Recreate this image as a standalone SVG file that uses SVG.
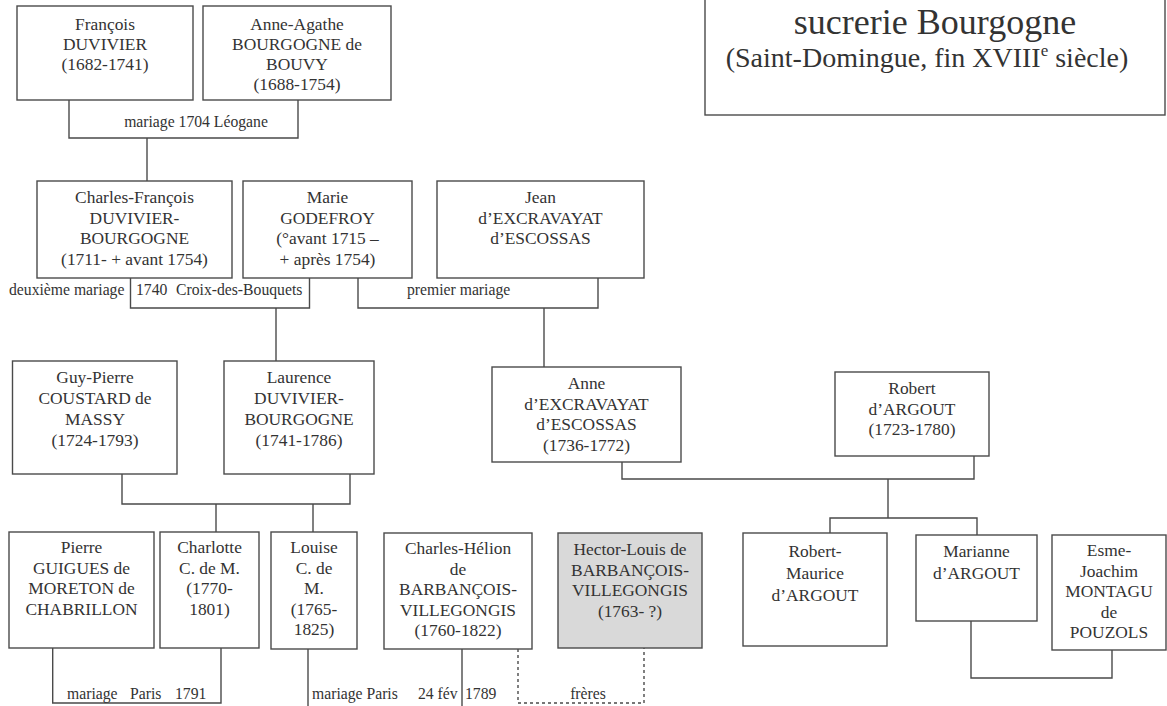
<svg xmlns="http://www.w3.org/2000/svg" width="1167" height="706" viewBox="0 0 1167 706">
<style>
  .box { fill: #ffffff; stroke: #4a4a4a; stroke-width: 1.4; }
  .gray { fill: #d9d9d9; }
  .nm { font-family: "Liberation Serif", "Times New Roman", serif; font-size: 17.4px; fill: #333333; text-anchor: middle; }
  .lb { font-family: "Liberation Serif", "Times New Roman", serif; font-size: 15.7px; fill: #333333; }
  .ln { fill: none; stroke: #4a4a4a; stroke-width: 1.4; }
  .dt { fill: none; stroke: #4a4a4a; stroke-width: 1.4; stroke-dasharray: 3 3; }
  .ttl { font-family: "Liberation Serif", "Times New Roman", serif; fill: #333333; text-anchor: middle; }
</style>
<rect width="1167" height="706" fill="#ffffff"/>

<g id="title">
  <rect class="box" x="705" y="-5" width="460" height="120"/>
  <text class="ttl" x="935" y="34" font-size="36">sucrerie Bourgogne</text>
  <text class="ttl" x="927" y="67" font-size="28">(Saint-Domingue, fin XVIII<tspan font-size="17" dy="-11">e</tspan><tspan dy="11"> siècle)</tspan></text>
</g>

<g id="connectors">
  <!-- row 1 marriage -->
  <polyline class="ln" points="69,100 69,138 298,138 298,100"/>
  <line class="ln" x1="147" y1="138" x2="147" y2="181"/>
  <!-- row 2 marriages -->
  <polyline class="ln" points="130.5,278 130.5,308 309.5,308 309.5,278"/>
  <line class="ln" x1="276" y1="308" x2="276" y2="361"/>
  <polyline class="ln" points="358,278 358,308 598,308 598,278"/>
  <line class="ln" x1="544" y1="308" x2="544" y2="367"/>
  <!-- row 3 -->
  <polyline class="ln" points="122,474 122,504 350,504 350,474"/>
  <line class="ln" x1="216" y1="504" x2="216" y2="532"/>
  <line class="ln" x1="313" y1="504" x2="313" y2="532"/>
  <polyline class="ln" points="622,462 622,479 974,479 974,456"/>
  <line class="ln" x1="888" y1="479" x2="888" y2="518"/>
  <polyline class="ln" points="830,533 830,518 977,518 977,535"/>
  <!-- row 4 -->
  <polyline class="ln" points="52.7,648 52.7,703 221,703 221,648"/>
  <line class="ln" x1="308" y1="649" x2="308" y2="708"/>
  <line class="ln" x1="462" y1="649" x2="462" y2="708"/>
  <polyline class="dt" points="518,649 518,703 644,703 644,648"/>
  <polyline class="ln" points="971,621 971,678 1112,678 1112,650"/>
</g>

<g id="labels">
  <text class="lb" x="196" y="127" text-anchor="middle">mariage 1704 Léogane</text>
  <text class="lb" x="9" y="295">deuxième mariage</text>
  <text class="lb" x="136" y="295">1740</text>
  <text class="lb" x="176" y="295">Croix-des-Bouquets</text>
  <text class="lb" x="407" y="295">premier mariage</text>
  <text class="lb" x="67" y="699">mariage</text>
  <text class="lb" x="130" y="699">Paris</text>
  <text class="lb" x="175" y="699">1791</text>
  <text class="lb" x="312" y="699">mariage Paris</text>
  <text class="lb" x="418" y="699">24 fév</text>
  <text class="lb" x="465" y="699">1789</text>
  <text class="lb" x="588" y="699" text-anchor="middle">frères</text>
</g>

<g id="francois-duvivier">
  <rect class="box" x="17" y="6" width="176" height="94"/>
  <text class="nm"><tspan x="105" y="30">François</tspan><tspan x="105" y="50">DUVIVIER</tspan><tspan x="105" y="70">(1682-1741)</tspan></text>
</g>
<g id="anne-agathe">
  <rect class="box" x="203" y="6" width="188" height="94"/>
  <text class="nm"><tspan x="297" y="30">Anne-Agathe</tspan><tspan x="297" y="50">BOURGOGNE de</tspan><tspan x="297" y="70">BOUVY</tspan><tspan x="297" y="90">(1688-1754)</tspan></text>
</g>

<g id="charles-francois">
  <rect class="box" x="37" y="181" width="195" height="97"/>
  <text class="nm"><tspan x="134.5" y="203">Charles-François</tspan><tspan x="134.5" y="223.5">DUVIVIER-</tspan><tspan x="134.5" y="244">BOURGOGNE</tspan><tspan x="134.5" y="264.5">(1711- + avant 1754)</tspan></text>
</g>
<g id="marie-godefroy">
  <rect class="box" x="243" y="181" width="169" height="97"/>
  <text class="nm"><tspan x="327.5" y="203">Marie</tspan><tspan x="327.5" y="223.5">GODEFROY</tspan><tspan x="327.5" y="244">(°avant 1715 –</tspan><tspan x="327.5" y="264.5">+ après 1754)</tspan></text>
</g>
<g id="jean-excravayat">
  <rect class="box" x="437" y="181" width="207" height="97"/>
  <text class="nm"><tspan x="540.5" y="203">Jean</tspan><tspan x="540.5" y="223.5">d’EXCRAVAYAT</tspan><tspan x="540.5" y="244">d’ESCOSSAS</tspan></text>
</g>

<g id="guy-pierre">
  <rect class="box" x="12.5" y="361" width="164.5" height="113"/>
  <text class="nm"><tspan x="95" y="383">Guy-Pierre</tspan><tspan x="95" y="404">COUSTARD de</tspan><tspan x="95" y="425">MASSY</tspan><tspan x="95" y="446">(1724-1793)</tspan></text>
</g>
<g id="laurence">
  <rect class="box" x="224" y="361" width="150" height="113"/>
  <text class="nm"><tspan x="299" y="383">Laurence</tspan><tspan x="299" y="404">DUVIVIER-</tspan><tspan x="299" y="425">BOURGOGNE</tspan><tspan x="299" y="446">(1741-1786)</tspan></text>
</g>
<g id="anne-excravayat">
  <rect class="box" x="492" y="367" width="189" height="95"/>
  <text class="nm"><tspan x="586.5" y="389">Anne</tspan><tspan x="586.5" y="409.5">d’EXCRAVAYAT</tspan><tspan x="586.5" y="430">d’ESCOSSAS</tspan><tspan x="586.5" y="450.5">(1736-1772)</tspan></text>
</g>
<g id="robert-argout">
  <rect class="box" x="835" y="372" width="154" height="84"/>
  <text class="nm"><tspan x="912" y="394">Robert</tspan><tspan x="912" y="414.5">d’ARGOUT</tspan><tspan x="912" y="435">(1723-1780)</tspan></text>
</g>

<g id="pierre-guigues">
  <rect class="box" x="9" y="532" width="145" height="116"/>
  <text class="nm"><tspan x="81.5" y="553">Pierre</tspan><tspan x="81.5" y="573.5">GUIGUES de</tspan><tspan x="81.5" y="594">MORETON de</tspan><tspan x="81.5" y="614.5">CHABRILLON</tspan></text>
</g>
<g id="charlotte">
  <rect class="box" x="160" y="532" width="99" height="116"/>
  <text class="nm"><tspan x="209.5" y="553">Charlotte</tspan><tspan x="209.5" y="573.5">C. de M.</tspan><tspan x="209.5" y="594">(1770-</tspan><tspan x="209.5" y="614.5">1801)</tspan></text>
</g>
<g id="louise">
  <rect class="box" x="271" y="532" width="86" height="117"/>
  <text class="nm"><tspan x="314" y="553">Louise</tspan><tspan x="314" y="573.5">C. de</tspan><tspan x="314" y="594">M.</tspan><tspan x="314" y="614.5">(1765-</tspan><tspan x="314" y="635">1825)</tspan></text>
</g>
<g id="charles-helion">
  <rect class="box" x="384" y="533" width="148" height="116"/>
  <text class="nm"><tspan x="458" y="554">Charles-Hélion</tspan><tspan x="458" y="574.5">de</tspan><tspan x="458" y="595">BARBANÇOIS-</tspan><tspan x="458" y="615.5">VILLEGONGIS</tspan><tspan x="458" y="636">(1760-1822)</tspan></text>
</g>
<g id="hector-louis">
  <rect class="box gray" x="558" y="533" width="144" height="115"/>
  <text class="nm"><tspan x="630" y="555">Hector-Louis de</tspan><tspan x="630" y="575.5">BARBANÇOIS-</tspan><tspan x="630" y="596">VILLEGONGIS</tspan><tspan x="630" y="616.5">(1763- ?)</tspan></text>
</g>
<g id="robert-maurice">
  <rect class="box" x="743" y="533" width="144" height="113"/>
  <text class="nm"><tspan x="815" y="557">Robert-</tspan><tspan x="815" y="579">Maurice</tspan><tspan x="815" y="601">d’ARGOUT</tspan></text>
</g>
<g id="marianne-argout">
  <rect class="box" x="916" y="535" width="121" height="86"/>
  <text class="nm"><tspan x="976.5" y="557">Marianne</tspan><tspan x="976.5" y="579">d’ARGOUT</tspan></text>
</g>
<g id="esme-joachim">
  <rect class="box" x="1052" y="535" width="114" height="115"/>
  <text class="nm"><tspan x="1109" y="556">Esme-</tspan><tspan x="1109" y="576.5">Joachim</tspan><tspan x="1109" y="597">MONTAGU</tspan><tspan x="1109" y="617.5">de</tspan><tspan x="1109" y="638">POUZOLS</tspan></text>
</g>
</svg>
